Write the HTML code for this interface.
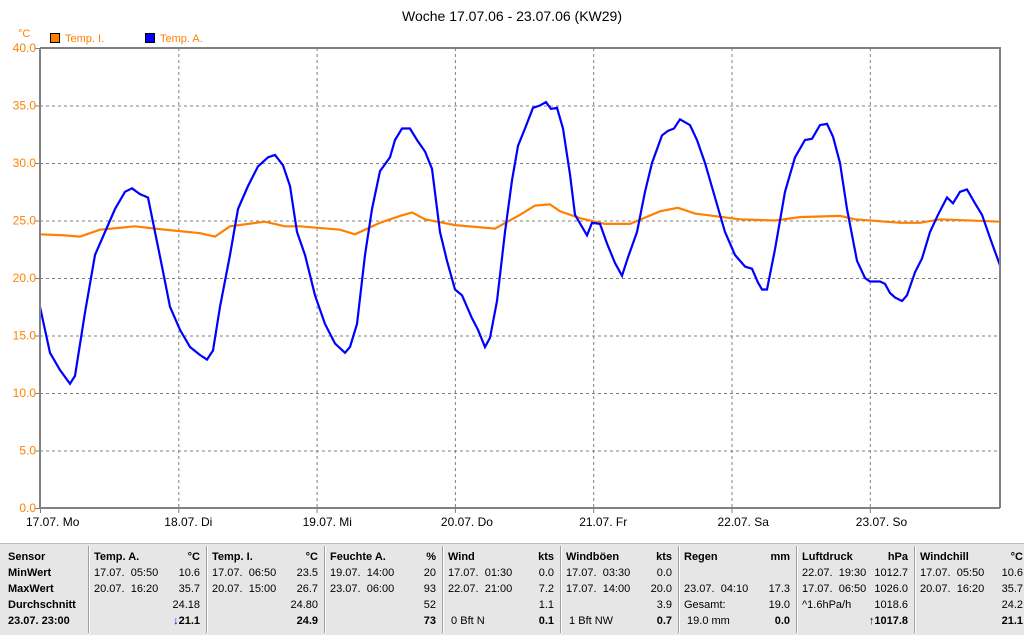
<!DOCTYPE html>
<html><head><meta charset="utf-8"><style>
body{margin:0;width:1024px;height:634px;background:#fff;overflow:hidden;font-family:"Liberation Sans",sans-serif;position:relative}
#tbl{position:absolute;left:0;top:543px;width:1024px;height:91px;background:#e6e6e6;border-top:1px solid #bbb}
.c{position:absolute;top:0;height:91px;font-size:11px;color:#000}
.c div{position:absolute;white-space:nowrap}
.sep{position:absolute;top:2px;width:1px;height:87px;background:#a0a0a0;border-right:1px solid #fff}
b{font-weight:bold}
</style></head><body>
<svg width="1024" height="543" style="position:absolute;left:0;top:0" font-family="Liberation Sans, sans-serif">
<text x="512" y="21" font-size="14" text-anchor="middle" fill="#000">Woche 17.07.06 - 23.07.06 (KW29)</text>
<text x="18" y="37" font-size="11" fill="#ff8000">°C</text>
<rect x="50.5" y="33.5" width="9" height="9" fill="#ff8000" stroke="#000"/>
<text x="65" y="42" font-size="11" fill="#ff8000">Temp. I.</text>
<rect x="145.5" y="33.5" width="9" height="9" fill="#0000ff" stroke="#000"/>
<text x="160" y="42" font-size="11" fill="#ff8000">Temp. A.</text>
<g id="grid" stroke="#808080" stroke-dasharray="3,3" stroke-width="1"></g>
<g id="ylab" font-size="12" fill="#ff8000" text-anchor="end"></g>
<g id="xlab" font-size="12" fill="#000"></g>
<polyline id="or" fill="none" stroke="#ff8000" stroke-width="2.2"/>
<polyline id="bl" fill="none" stroke="#0000ff" stroke-width="2.2"/>
<path d="M40,48 H1000 V508 M40,48 V508 H1000" fill="none" stroke="#808080" stroke-width="2"/>
</svg>
<div id="tbl">
<div class="c" style="left:8px"><div style="top:7px"><b>Sensor</b></div><div style="top:23px"><b>MinWert</b></div><div style="top:39px"><b>MaxWert</b></div><div style="top:55px"><b>Durchschnitt</b></div><div style="top:71px"><b>23.07. 23:00</b></div></div>
</div>
<script>
const g=document.getElementById('grid'),yl=document.getElementById('ylab'),xl=document.getElementById('xlab');
const NS='http://www.w3.org/2000/svg';
function el(p,t,a,txt){const e=document.createElementNS(NS,t);for(const k in a)e.setAttribute(k,a[k]);if(txt)e.textContent=txt;p.appendChild(e);}
const Y=v=>508-11.5*v;
for(let v=0;v<=40;v+=5){if(v>0&&v<40)el(g,'line',{x1:40,x2:1000,y1:Y(v)+.5,y2:Y(v)+.5});el(yl,'text',{x:36,y:Y(v)+4},v.toFixed(1));el(g,'line',{x1:35,x2:40,y1:Y(v)+.5,y2:Y(v)+.5,'stroke-dasharray':'none'});}
const days=['17.07.  Mo','18.07.  Di','19.07.  Mi','20.07.  Do','21.07.  Fr','22.07.  Sa','23.07.  So'];
for(let i=0;i<7;i++){const x=40+i*138.3;if(i>0)el(g,'line',{x1:x+.5,x2:x+.5,y1:48,y2:508});el(g,'line',{x1:x+.5,x2:x+.5,y1:508,y2:513,'stroke-dasharray':'none'});el(xl,'text',{x:x-14,y:526,'xml:space':'preserve'},days[i]);}
const B=[[40,17.5],[50,13.5],[60,12],[70,10.8],[75,11.5],[85,17],[95,22],[105,24],[115,26],[125,27.5],[132,27.8],[140,27.3],[148,27],[155,24],[162,21],[170,17.5],[180,15.5],[190,14],[200,13.3],[207,12.9],[213,13.7],[220,17.5],[230,22],[238,26],[248,28],[258,29.7],[268,30.5],[275,30.7],[283,29.8],[290,28],[297,24],[305,22],[315,18.5],[325,16],[335,14.3],[345,13.5],[350,14],[357,16],[365,22],[372,26],[380,29.3],[390,30.5],[395,32],[402,33],[410,33],[417,32],[425,31],[432,29.5],[440,24],[447,21.5],[455,19],[462,18.5],[472,16.5],[478,15.5],[485,14],[490,14.8],[497,18],[505,24],[512,28.5],[518,31.5],[525,33],[533,34.8],[540,35],[546,35.3],[551,34.7],[557,34.8],[563,33],[570,29],[575,25.5],[587,23.7],[592,24.8],[600,24.7],[607,23],[615,21.3],[622,20.2],[628,21.8],[637,24],[645,27.5],[652,30],[662,32.4],[668,32.8],[674,33],[680,33.8],[690,33.3],[697,32],[705,30],[715,27],[725,24],[735,22],[745,21],[752,20.8],[758,19.6],[762,19],[767,19],[775,22.5],[785,27.5],[795,30.5],[805,32],[812,32.1],[820,33.3],[827,33.4],[833,32.3],[840,30],[847,26],[857,21.5],[865,20],[870,19.7],[880,19.7],[885,19.5],[890,18.7],[895,18.3],[902,18],[907,18.5],[915,20.5],[922,21.7],[930,24],[938,25.5],[947,27],[953,26.5],[960,27.5],[967,27.7],[975,26.5],[982,25.5],[990,23.5],[1000,21.1]];
const O=[[40,23.8],[65,23.7],[80,23.6],[100,24.2],[135,24.5],[155,24.3],[200,23.9],[215,23.6],[230,24.5],[265,24.9],[285,24.5],[300,24.5],[340,24.2],[355,23.8],[380,24.8],[400,25.4],[412,25.7],[425,25.1],[455,24.6],[495,24.3],[520,25.5],[535,26.3],[550,26.4],[560,25.8],[580,25.2],[605,24.7],[630,24.7],[660,25.8],[678,26.1],[695,25.6],[740,25.1],[775,25.0],[800,25.3],[840,25.4],[855,25.1],[900,24.8],[920,24.8],[940,25.1],[1000,24.9]];
document.getElementById('bl').setAttribute('points',B.map(p=>p[0]+','+Y(p[1]).toFixed(1)).join(' '));
document.getElementById('or').setAttribute('points',O.map(p=>p[0]+','+Y(p[1]).toFixed(1)).join(' '));
const cols=[
['Temp. A.','°C','17.07.  05:50','10.6','20.07.  16:20','35.7','','24.18','','<span style="color:#00f">↓</span>21.1'],
['Temp. I.','°C','17.07.  06:50','23.5','20.07.  15:00','26.7','','24.80','','24.9'],
['Feuchte A.','%','19.07.  14:00','20','23.07.  06:00','93','','52','','73'],
['Wind','kts','17.07.  01:30','0.0','22.07.  21:00','7.2','','1.1',' 0 Bft N','0.1'],
['Windböen','kts','17.07.  03:30','0.0','17.07.  14:00','20.0','','3.9',' 1 Bft NW','0.7'],
['Regen','mm','','','23.07.  04:10','17.3','Gesamt:','19.0',' 19.0 mm','0.0'],
['Luftdruck','hPa','22.07.  19:30','1012.7','17.07.  06:50','1026.0','^1.6hPa/h','1018.6','','↑1017.8'],
['Windchill','°C','17.07.  05:50','10.6','20.07.  16:20','35.7','','24.2','','21.1']];
const t=document.getElementById('tbl');
cols.forEach((c,i)=>{const L=88+i*118;
 const s=document.createElement('div');s.className='sep';s.style.left=L+'px';t.appendChild(s);
 const d=document.createElement('div');d.className='c';d.style.left=(L+6)+'px';d.style.width=(i==7?103:106)+'px';
 let h='';for(let r=0;r<5;r++){const tp=7+r*16;const b=(r==0||r==4);
  h+=`<div style="top:${tp}px;left:0;white-space:pre">${b&&r==0?'<b>'+c[0]+'</b>':c[r*2]}</div>`;
  h+=`<div style="top:${tp}px;right:0">${b?'<b>'+c[r*2+1]+'</b>':c[r*2+1]}</div>`;}
 d.innerHTML=h;t.appendChild(d);});
</script>
</body></html>
